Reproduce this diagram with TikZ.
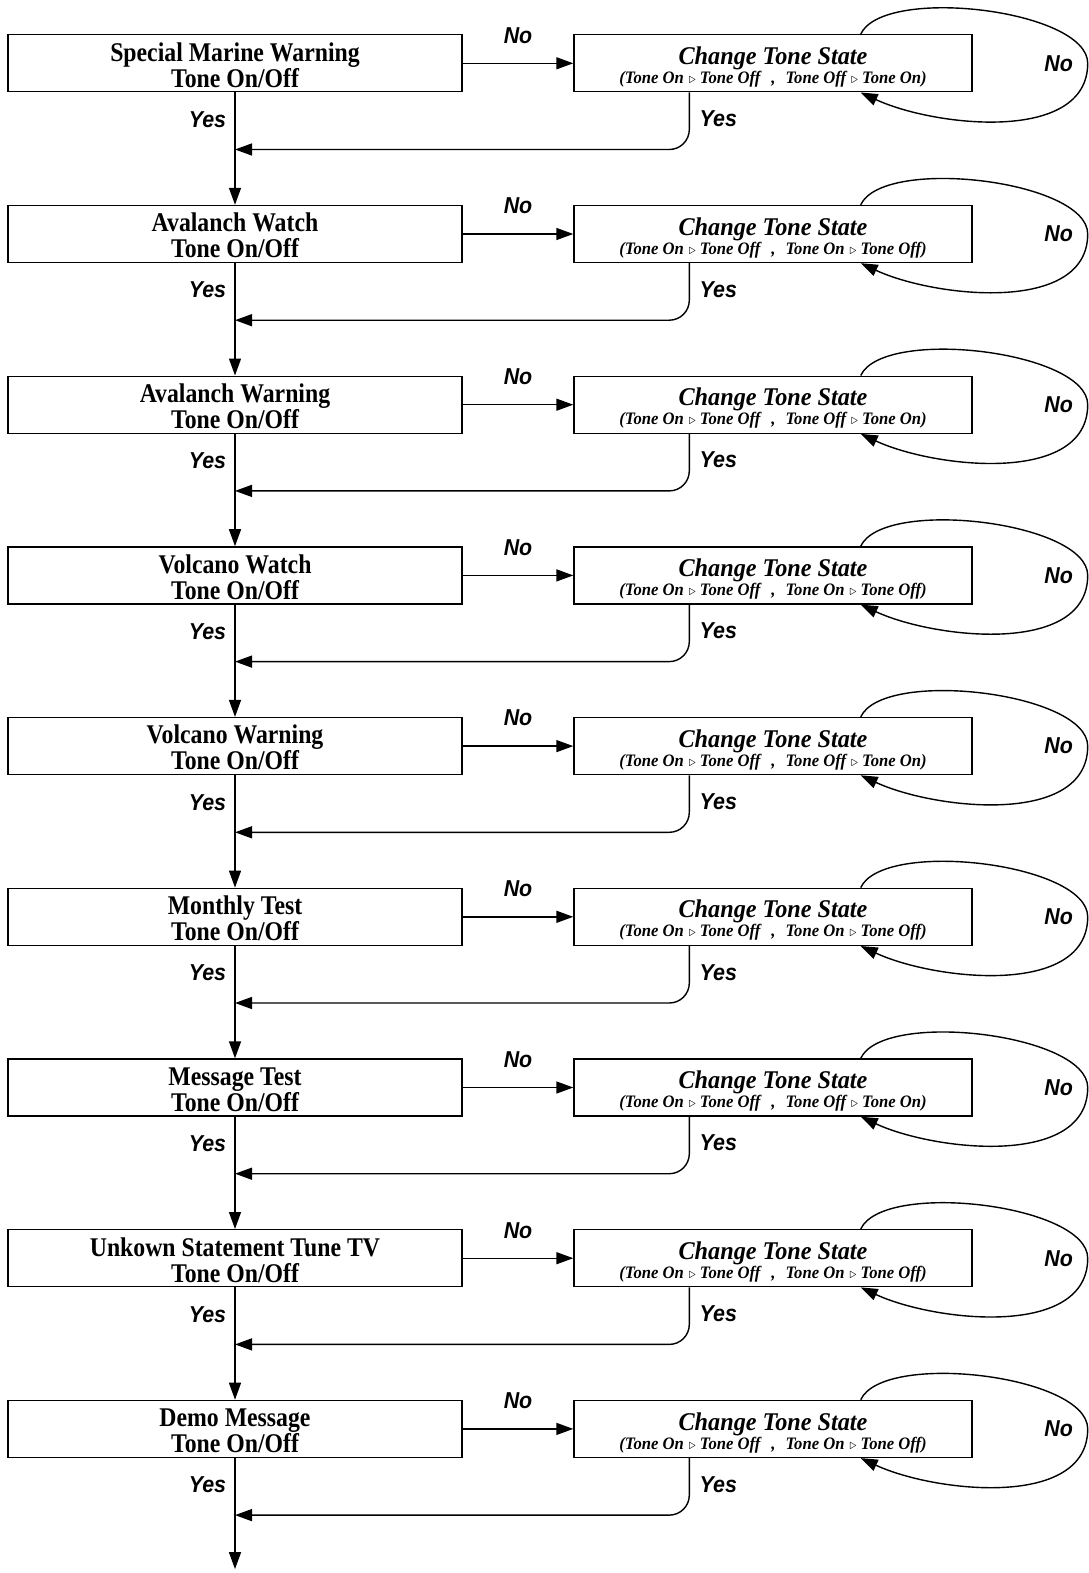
\documentclass[tikz,border=0pt]{standalone}
\usepackage{fontspec}
\usetikzlibrary{arrows.meta}
\newfontfamily\boxfont[FakeStretch=0.88]{Liberation Serif}
\newfontfamily\statefont[FakeStretch=0.95]{Liberation Serif}
\newfontfamily\lblfont[FakeStretch=0.93]{Liberation Sans}
\newcommand{\toneswap}[2]{Tone #1\hspace{5pt}{\fontsize{15}{15}\selectfont$\triangleright$}\hspace{4pt}Tone #2}

\begin{document}
\begin{tikzpicture}[x=1pt,y=1pt,
		line width=1.4pt, >={Triangle[length=17pt,width=12pt]},
		alertbox/.style={draw, minimum width=454pt, minimum height=57pt, inner sep=0pt, align=center,
			font=\boxfont\bfseries\fontsize{27}{26}\selectfont},
		statebox/.style={draw, minimum width=398pt, minimum height=57pt, inner sep=0pt, align=center,
			font=\statefont\bfseries\itshape\fontsize{17.5}{19}\selectfont},
		lbl/.style={font=\lblfont\bfseries\itshape\fontsize{23}{23}\selectfont, inner sep=0pt}]
	\useasboundingbox (0,0) rectangle (1088,-1573);
	\foreach \i/\txt/\a/\b in {1/Special Marine Warning/Off/On, 2/Avalanch Watch/On/Off,
		3/Avalanch Warning/Off/On, 4/Volcano Watch/On/Off, 5/Volcano Warning/Off/On,
		6/Monthly Test/On/Off, 7/Message Test/Off/On, 8/Unkown Statement Tune TV/On/Off,
		9/Demo Message/On/Off}{
		\node[alertbox] (a\i) at (235,{-63.3-170.7*(\i-1)}) {\rule{0pt}{22pt}\txt\\Tone On/Off};
		\node[statebox] (s\i) at (773,{-63.3-170.7*(\i-1)})
			{{\fontsize{25.5}{25}\selectfont\rule{0pt}{25pt}Change Tone State}\\
			(\toneswap{On}{Off}\hspace{11pt},\hspace{10pt}\toneswap{\a}{\b})};
		\coordinate (m\i) at ([yshift=-57pt]a\i.south);
		\draw[->] (a\i) -- node[lbl, midway, yshift=28pt] {No} (s\i);
		\draw[->, rounded corners=20pt] ([xshift=116pt]s\i.south west)
			|- node[lbl, pos=.23, xshift=29pt] {Yes} (m\i);
		\draw[->] ([xshift=-112pt]s\i.north east) to[out=65, in=90, looseness=.6]
			([xshift=115pt]s\i.east) node[lbl, xshift=-29pt] {No}
			to[out=-90, in=-25, looseness=.9] ([xshift=-112pt]s\i.south east);
	}
	\foreach \i in {1,...,8}{
		\pgfmathtruncatemacro\j{\i+1}
		\draw[->] (a\i) -- node[lbl, pos=.24, xshift=-27.5pt] {Yes} (a\j);
	}
	\coordinate (end) at ([yshift=-111pt]a9.south);
	\draw[->] (a9) -- node[lbl, pos=.24, xshift=-27.5pt] {Yes} (end);
\end{tikzpicture}
\end{document}
